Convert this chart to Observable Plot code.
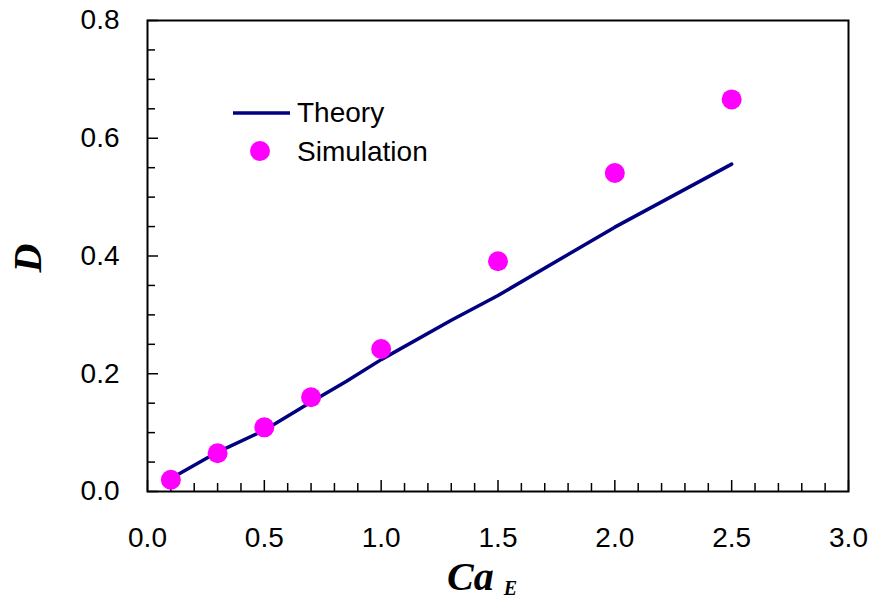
<!DOCTYPE html>
<html><head><meta charset="utf-8">
<script src="https://cdn.jsdelivr.net/npm/d3@7"></script>
<script src="https://cdn.jsdelivr.net/npm/@observablehq/plot@0.6"></script>
<style>body{margin:0;background:#fff;} svg{display:block;}</style>
</head><body><div id="chart"></div>
<script>
// Simulation points
const simX = [0.1, 0.3, 0.5, 0.7, 1.0, 1.5, 2.0, 2.5];
const simY = [0.020, 0.065, 0.109, 0.160, 0.242, 0.391, 0.541, 0.666];
// Theory curve
const theoryX = [0.1, 0.3, 0.5, 0.7, 0.85, 1.0, 1.3, 1.5, 2.0, 2.5];
const theoryY = [0.022, 0.067, 0.104, 0.152, 0.187, 0.224, 0.291, 0.333, 0.449, 0.556];
// Ticks
const xMajor = [0, 0.5, 1.0, 1.5, 2.0, 2.5, 3.0];
const xMinor = [0.1, 0.2, 0.3, 0.4, 0.6, 0.7, 0.8, 0.9, 1.1, 1.2, 1.3, 1.4, 1.6, 1.7, 1.8, 1.9, 2.1, 2.2, 2.3, 2.4, 2.6, 2.7, 2.8, 2.9];
const yMajor = [0, 0.2, 0.4, 0.6, 0.8];
const yMinor = [0.05, 0.1, 0.15, 0.25, 0.3, 0.35, 0.45, 0.5, 0.55, 0.65, 0.7, 0.75];
// Labels
const seriesNames = ["Theory", "Simulation"];
const xLabel = "Ca";
const xLabelSub = "E";
const yLabel = "D";

const sim = simX.map((x, i) => ({x, y: simY[i]}));
const theory = theoryX.map((x, i) => ({x, y: theoryY[i]}));

const W = 875, H = 603;
const mL = 147, mR = 27, mT = 20, mB = 112;
const fmt = d => d.toFixed(1);

const chart = Plot.plot({
  width: W, height: H,
  marginLeft: mL, marginRight: mR, marginTop: mT, marginBottom: mB,
  style: {fontFamily: "'Liberation Sans', Arial, sans-serif", fontSize: "28px", background: "#fff", color: "#000"},
  x: {domain: [0, 3]},
  y: {domain: [0, 0.8]},
  marks: [
    Plot.axisX(xMinor, {tickSize: -8, tickFormat: () => "", label: null, strokeWidth: 1.5}),
    Plot.axisX(xMajor, {tickSize: -11, tickPadding: 47, tickFormat: fmt, label: null, fontSize: 28, strokeWidth: 1.5}),
    Plot.axisY(yMinor, {tickSize: -8, tickFormat: () => "", label: null, strokeWidth: 1.5}),
    Plot.axisY(yMajor, {tickSize: -11, tickPadding: 39, tickFormat: fmt, label: null, fontSize: 28, strokeWidth: 1.5}),
    Plot.line(theory, {x: "x", y: "y", stroke: "#000080", strokeWidth: 3.5}),
    Plot.dot(sim, {x: "x", y: "y", r: 10, fill: "#ff00ff"}),
    Plot.frame({stroke: "#000", strokeWidth: 2})
  ]
});
document.getElementById("chart").appendChild(chart);

const svg = d3.select(chart);
// Legend
const lg = svg.append("g").attr("font-family", "'Liberation Sans', Arial, sans-serif")
  .attr("font-size", 28).attr("text-anchor", "start");
lg.append("line").attr("x1", 233).attr("x2", 290).attr("y1", 113).attr("y2", 113)
  .attr("stroke", "#000080").attr("stroke-width", 3.5);
lg.append("text").attr("x", 297).attr("y", 122).text(seriesNames[0]);
lg.append("circle").attr("cx", 260).attr("cy", 151).attr("r", 10).attr("fill", "#ff00ff");
lg.append("text").attr("x", 297).attr("y", 161).text(seriesNames[1]);

// Axis titles
const serif = "'Liberation Serif', 'Times New Roman', serif";
const xt = svg.append("text").attr("font-family", serif).attr("font-weight", "bold").attr("font-style", "italic")
  .attr("text-anchor", "start").attr("x", 447).attr("y", 590).attr("font-size", 40);
xt.append("tspan").text(xLabel);
xt.append("tspan").attr("dx", 10).attr("dy", 5).attr("font-size", 20).text(xLabelSub);
svg.append("text").attr("font-family", serif).attr("font-weight", "bold").attr("font-style", "italic")
  .attr("font-size", 40).attr("text-anchor", "middle")
  .attr("transform", "translate(41,258) rotate(-90)").text(yLabel);
</script>
</body></html>
